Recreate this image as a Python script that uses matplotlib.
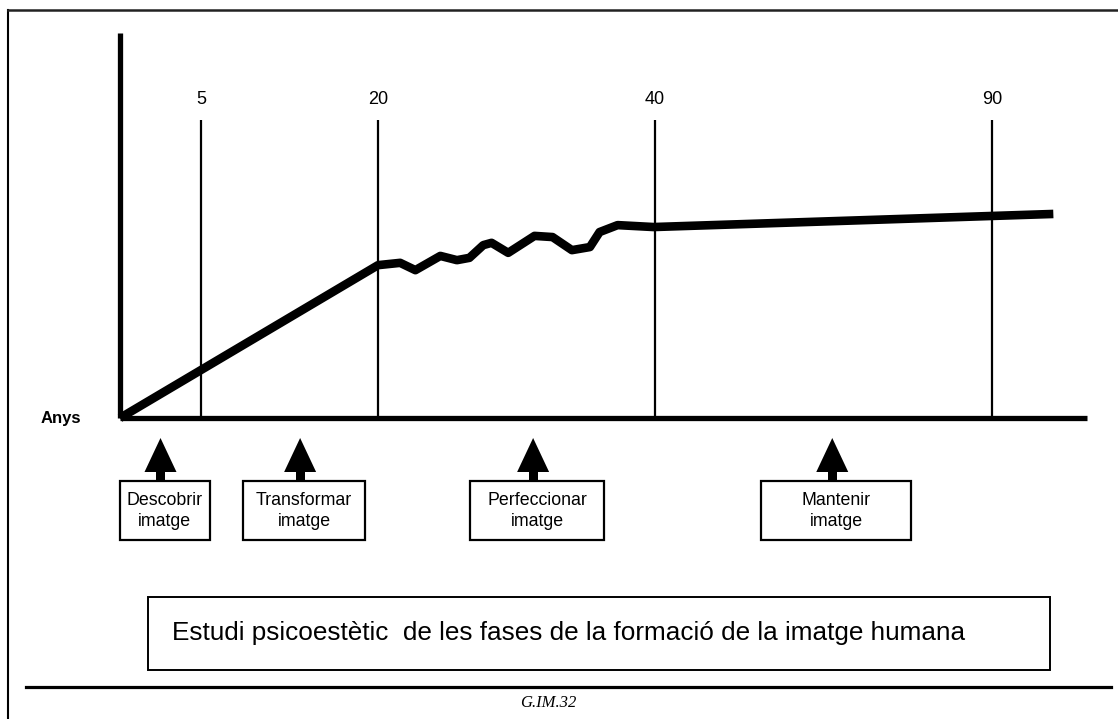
import numpy as np
import matplotlib
matplotlib.use("Agg")
import matplotlib.pyplot as plt
from matplotlib.patches import Rectangle, Polygon

plt.rcParams['font.family'] = ['Liberation Sans', 'DejaVu Sans']

# age marks drawn as vertical lines
mark_ages = [5, 20, 40, 90]
mark_labels = ['5', '20', '40', '90']

# development curve (age, level 0-100)
curve_age = [0, 20, 21.6, 22.7, 24.5, 25.7, 26.6, 27.6, 28.2, 29.4,
             31.3, 32.6, 34.0, 35.3, 36.0, 37.3, 39.9, 99.1]
curve_level = [0, 39.7, 40.3, 38.4, 42.1, 41.0, 41.6, 44.9, 45.5, 42.9,
               47.3, 47.0, 43.6, 44.4, 48.3, 50.1, 49.6, 53.0]

# phases pointed at under the axis
phase_age = [2.5, 13.4, 31.2, 66.3]
phase_labels = ['Descobrir\nimatge', 'Transformar\nimatge',
                'Perfeccionar\nimatge', 'Mantenir\nimatge']
phase_box_w = [90, 122, 134, 150]

title = 'Estudi psicoestètic  de les fases de la formació de la imatge humana'
code = 'G.IM.32'

# the time axis is not linear: piecewise positions of the age marks
age_knots = [0, 5, 20, 40, 90, 200]
pos_knots = [0, 81, 258, 535, 872, 872 + 110 * 337 / 50]


def fwd(a):
    return np.interp(a, age_knots, pos_knots)


def inv(p):
    return np.interp(p, pos_knots, age_knots)


W, H = 1118, 719
fig = plt.figure(figsize=(W / 100, H / 100), dpi=100)
fig.patch.set_facecolor('white')

# background layer in pixel coordinates for the frame and boxes
bg = fig.add_axes([0, 0, 1, 1])
bg.set_xlim(0, W)
bg.set_ylim(H, 0)
bg.axis('off')

ax = fig.add_axes([120 / W, (H - 418) / H, (1087 - 120) / W, (418 - 33) / H])
ax.patch.set_alpha(0)
ax.set_xscale('function', functions=(fwd, inv))
ax.set_xlim(0, inv(1087 - 120))
ax.set_ylim(0, 100)
for s in ['top', 'right']:
    ax.spines[s].set_visible(False)
for s in ['left', 'bottom']:
    ax.spines[s].set_linewidth(3.8)
    ax.spines[s].set_capstyle('butt')
ax.set_xticks([])
ax.set_yticks([])

ax.vlines(mark_ages, 0, 77.4, color='black', lw=1.6)
for a, lab in zip(mark_ages, mark_labels):
    ax.text(a, 82.6, lab, ha='center', va='center', fontsize=13)

ax.plot(curve_age, curve_level, color='black', lw=6.2,
        solid_joinstyle='round', solid_capstyle='butt', clip_on=False)

# frame
bg.plot([8, 8], [10, H], color='black', lw=1.5)
bg.plot([8, W], [10, 10], color='#222222', lw=1.8)
bg.plot([26, 1111], [687, 687], color='black', lw=2.3)

bg.text(61, 418, 'Anys', ha='center', va='center', fontsize=12,
        fontweight='bold')

fig.canvas.draw()
for a, lab, bw in zip(phase_age, phase_labels, phase_box_w):
    cx = ax.transData.transform((a, 0))[0]
    bg.add_patch(Polygon([[cx, 438], [cx - 16, 472], [cx + 16, 472]],
                         closed=True, color='black', lw=0))
    bg.add_patch(Rectangle((cx - 4.5, 470), 9, 11, color='black', lw=0))
    bg.add_patch(Rectangle((cx - bw / 2 + 4, 481), bw, 59, fill=False,
                           ec='black', lw=1.6))
    bg.text(cx + 4, 511, lab, ha='center', va='center', fontsize=12.8,
            linespacing=1.25)

bg.add_patch(Rectangle((148, 597), 902, 73, fill=False, ec='black', lw=1.4))
bg.text(172, 633, title, ha='left', va='center', fontsize=18.8)
bg.text(548, 703, code, ha='center', va='center', fontsize=12,
        family='Liberation Serif', style='italic')

fig.savefig('out.png', dpi=100)
